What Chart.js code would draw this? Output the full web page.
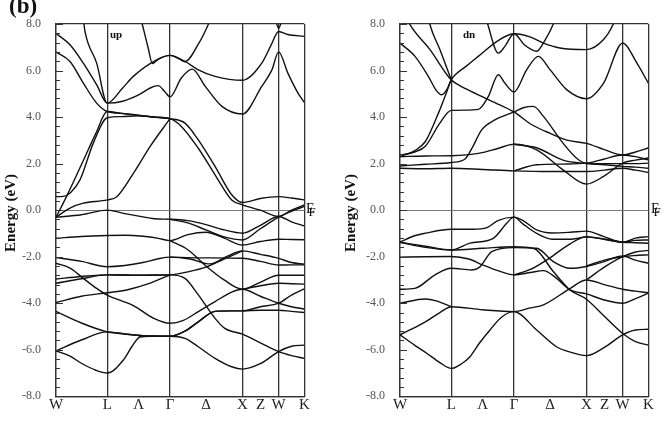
<!DOCTYPE html>
<html>
<head>
<meta charset="utf-8">
<script src="https://cdn.jsdelivr.net/npm/chart.js@4.4.0/dist/chart.umd.min.js"></script>
<style>
  body { margin: 0; background: #fff; width: 666px; height: 426px; position: relative; overflow: hidden; font-family: 'Liberation Serif', serif; }
  canvas { position: absolute; top: 0; }
  .lbl { position: absolute; color: #111; white-space: nowrap; }
  .ytitle { position: absolute; font-weight: bold; font-size: 15px; color: #111; transform: translate(-50%, -50%) rotate(-90deg); white-space: nowrap; }
  .ef { position: absolute; font-size: 14px; line-height: 14px; color: #111; white-space: nowrap; }
  .ef span { position: relative; top: 3px; margin-left: -6px; font-size: 13px; }
</style>
</head>
<body>
<canvas id="up" width="333" height="426" style="left:0"></canvas>
<canvas id="dn" width="333" height="426" style="left:333px"></canvas>

<div class="lbl" style="left:9px;top:-7px;font-size:23px;font-weight:bold">(b)</div>
<div class="lbl" style="left:110px;top:28px;font-size:11px;font-weight:bold">up</div>
<div class="lbl" style="left:463px;top:28px;font-size:11px;font-weight:bold">dn</div>
<div class="ytitle" style="left:10px;top:213px">Energy (eV)</div>
<div class="ytitle" style="left:350px;top:213px">Energy (eV)</div>
<div class="ef" style="left:306px;top:202px">E<span>F</span></div>
<div class="ef" style="left:651px;top:202px">E<span>F</span></div>

<script>
// k-path: W - L - Γ - X - W - K (fcc, units of 2π/a), Λ / Δ / Z are mid-segment labels
const SYM_K = [0, 0.707, 1.14, 1.573, 2.073, 2.573, 2.823, 3.073, 3.427];
const SYM_LABELS = ['W', 'L', 'Λ', 'Γ', 'Δ', 'X', 'Z', 'W', 'K'];
const SYM_LINE = [true, true, false, true, false, true, false, true, true];
const E_MIN = -8, E_MAX = 8, E_STEP = 2, E_MINOR = 0.4;

// spin-up bands, [k, E(eV)]
const upBands = [
  [[0,7.6],[0.193,7.11],[0.377,6.32],[0.561,5.39],[0.707,4.6],[0.92,5.25],[1.067,5.75],[1.39,6.46],[1.573,6.65],[1.78,6.39],[1.964,6.03],[2.195,5.75],[2.573,5.58],[2.84,6.32],[2.97,7.1],[3.073,7.68],[3.2,7.55],[3.427,7.47]],
  [[3.02,8.3],[3.073,7.82],[3.13,8.3]],
  [[0,6.8],[0.193,6.39],[0.377,5.46],[0.561,4.6],[0.707,4.24],[0.92,4.16],[1.14,4.08],[1.36,4.0],[1.573,3.93],[1.78,3.74],[1.964,3.02],[2.195,1.88],[2.425,0.66],[2.573,0.33],[2.82,0.5],[3.073,0.58],[3.25,0.52],[3.427,0.44]],
  [[1.12,8.8],[1.19,8.0],[1.27,7.0],[1.33,6.3],[1.42,6.5],[1.573,6.65],[1.7,6.5],[1.78,6.38],[1.96,7.11],[2.1,7.97],[2.18,8.6]],
  [[0.37,8.4],[0.4,7.68],[0.561,6.32],[0.707,4.6],[0.92,4.68],[1.14,4.95],[1.3,5.25],[1.41,5.35],[1.5,5.1],[1.573,4.87],[1.73,5.68],[1.88,6.06],[2.06,5.32],[2.29,4.46],[2.573,4.13],[2.84,5.32],[2.98,6.03],[3.073,6.8],[3.2,5.89],[3.34,5.03],[3.427,4.63]],
  [[0,-0.3],[0.1,0.3],[0.35,1.95],[0.55,3.3],[0.707,4.24],[0.92,4.15],[1.14,4.07],[1.36,4.0],[1.573,3.93],[1.73,3.6],[1.964,2.66],[2.195,1.52],[2.425,0.44],[2.573,0.23],[2.82,0.0],[3.073,-0.27],[3.25,0.0],[3.427,0.23]],
  [[0,0.58],[0.1,0.59],[0.2,0.75],[0.331,1.3],[0.515,2.88],[0.707,3.97],[0.9,4.02],[1.14,4.05],[1.36,4.0],[1.573,3.93]],
  [[0,-0.3],[0.2,0.1],[0.377,0.3],[0.707,0.44],[0.84,0.58],[1.07,1.59],[1.3,2.74],[1.573,3.93]],
  [[0,-0.3],[0.35,-0.2],[0.707,0.0],[0.95,-0.15],[1.16,-0.27],[1.36,-0.37],[1.573,-0.39],[1.82,-0.45],[2.07,-0.62],[2.32,-0.85],[2.573,-0.99],[2.82,-0.65],[3.073,-0.27],[3.25,-0.5],[3.427,-0.68]],
  [[1.573,-0.39],[1.82,-0.55],[2.07,-0.85],[2.32,-1.15],[2.573,-1.28],[2.82,-0.8],[3.073,-0.3],[3.25,-0.05],[3.427,0.16]],
  [[0,-1.21],[0.35,-1.13],[0.707,-1.09],[0.95,-1.08],[1.2,-1.12],[1.4,-1.2],[1.573,-1.31],[1.82,-1.05],[2.07,-0.95],[2.32,-1.2],[2.573,-1.5],[2.82,-1.35],[3.073,-1.25],[3.25,-1.26],[3.427,-1.27]],
  [[1.573,-1.31],[1.82,-1.7],[2.07,-2.4],[2.32,-3.0],[2.573,-3.4],[2.82,-3.1],[3.073,-2.8],[3.25,-2.8],[3.427,-2.8]],
  [[0,-2.04],[0.35,-2.2],[0.707,-2.43],[0.95,-2.38],[1.2,-2.25],[1.4,-2.1],[1.573,-2.02],[1.85,-2.1],[2.126,-2.31],[2.35,-2.0],[2.573,-1.75],[2.82,-1.9],[3.073,-2.07],[3.25,-2.25],[3.427,-2.32]],
  [[1.573,-2.02],[2.0,-2.05],[2.573,-2.07],[2.82,-2.2],[3.073,-2.36],[3.25,-2.35],[3.427,-2.35]],
  [[0,-2.96],[0.35,-2.85],[0.707,-2.78],[1.14,-2.8],[1.573,-2.78],[1.82,-2.65],[2.07,-2.45],[2.32,-2.1],[2.573,-1.75]],
  [[0,-3.14],[0.35,-2.95],[0.707,-2.78],[1.14,-2.8],[1.573,-2.78],[1.78,-2.93],[1.964,-3.64],[2.195,-4.65],[2.33,-5.08],[2.573,-5.33],[2.82,-5.7],[3.073,-6.08],[3.25,-6.25],[3.427,-6.37]],
  [[0,-3.97],[0.35,-3.7],[0.707,-3.55],[0.975,-3.43],[1.3,-3.14],[1.573,-2.78]],
  [[0,-2.28],[0.2,-2.5],[0.377,-2.93],[0.56,-3.36],[0.707,-3.65],[1.067,-4.1],[1.35,-4.65],[1.573,-4.86],[1.75,-4.75],[1.964,-4.36],[2.195,-3.93],[2.425,-3.52],[2.573,-3.4],[2.82,-3.7],[3.073,-4.0],[3.25,-4.15],[3.427,-4.25]],
  [[2.573,-3.4],[2.82,-3.25],[3.073,-3.14],[3.25,-3.16],[3.427,-3.18]],
  [[0,-4.35],[0.35,-4.85],[0.707,-5.23],[0.95,-5.32],[1.2,-5.4],[1.573,-5.42],[1.78,-5.2],[1.964,-4.8],[2.195,-4.35],[2.425,-4.33],[2.573,-4.33],[2.82,-4.15],[3.073,-4.0],[3.25,-3.65],[3.427,-3.38]],
  [[0,-6.05],[0.35,-5.58],[0.707,-5.23],[0.95,-5.32],[1.2,-5.4],[1.573,-5.42],[1.78,-5.2],[1.964,-4.8],[2.195,-4.35],[2.425,-4.33],[2.573,-4.33],[2.82,-4.3],[3.073,-4.3],[3.25,-4.35],[3.427,-4.4]],
  [[0,-6.05],[0.18,-6.25],[0.35,-6.58],[0.55,-6.88],[0.707,-7.0],[0.93,-6.44],[1.05,-5.85],[1.16,-5.45],[1.3,-5.42],[1.573,-5.42],[1.78,-5.51],[1.964,-5.87],[2.195,-6.37],[2.425,-6.73],[2.573,-6.83],[2.82,-6.6],[3.073,-6.08],[3.25,-5.85],[3.427,-5.8]]
];

// spin-down bands
const dnBands = [
  [[0,7.18],[0.207,6.61],[0.391,5.75],[0.5,5.15],[0.575,4.96],[0.65,5.2],[0.707,5.6],[0.92,6.2],[1.08,6.61],[1.36,7.3],[1.573,7.58],[1.794,7.45],[1.98,7.18],[2.208,6.97],[2.573,6.9],[2.806,7.32],[2.944,8.0],[3.0,8.5]],
  [[0,8.9],[0.138,7.97],[0.414,6.9],[0.707,5.6],[0.92,5.2],[1.127,4.89],[1.36,4.55],[1.573,4.22],[1.82,3.67],[2.073,3.3],[2.32,3.0],[2.573,2.87],[2.82,2.6],[3.073,2.37],[3.25,2.5],[3.427,2.67]],
  [[0.36,8.8],[0.414,7.97],[0.552,6.89],[0.707,5.6]],
  [[1.1,9.2],[1.21,8.0],[1.357,6.75],[1.45,7.05],[1.573,7.58],[1.72,7.1],[1.887,6.83],[2.0,7.3],[2.116,8.0],[2.2,8.8]],
  [[0,2.37],[0.2,2.5],[0.35,2.75],[0.55,3.74],[0.707,4.29],[0.9,4.3],[1.08,4.33],[1.22,4.89],[1.357,5.82],[1.45,5.45],[1.573,5.08],[1.748,6.03],[1.91,6.61],[2.07,6.04],[2.3,5.18],[2.573,4.79],[2.81,5.46],[3.073,7.18],[3.27,6.32],[3.427,5.46]],
  [[0,2.3],[0.2,2.55],[0.35,2.95],[0.53,4.17],[0.707,5.6]],
  [[0,1.8],[0.35,1.78],[0.707,1.8],[1.14,1.75],[1.573,1.69],[2.07,1.66],[2.573,1.66],[2.82,1.72],[3.073,1.8],[3.25,1.72],[3.427,1.62]],
  [[0,1.9],[0.35,1.97],[0.707,2.05],[0.897,2.2],[1.0,2.7],[1.127,3.45],[1.31,3.88],[1.573,4.22],[1.7,4.4],[1.84,4.46],[1.98,4.03],[2.25,2.88],[2.45,2.2],[2.573,2.02],[2.82,2.0],[3.073,2.0],[3.25,2.0],[3.427,2.02]],
  [[0,2.3],[0.35,2.33],[0.707,2.34],[1.1,2.45],[1.35,2.65],[1.573,2.83],[1.886,2.59],[2.25,1.73],[2.573,1.12],[2.81,1.45],[3.073,2.02],[3.25,2.15],[3.427,2.24]],
  [[1.573,2.83],[1.886,2.68],[2.25,2.15],[2.573,2.0],[2.82,1.95],[3.073,1.88],[3.25,1.85],[3.427,1.8]],
  [[1.573,1.69],[1.886,1.95],[2.25,1.98],[2.573,2.02],[2.82,2.2],[3.073,2.37],[3.25,2.3],[3.427,2.16]],
  [[0,-5.36],[0.2,-5.8],[0.368,-6.15],[0.55,-6.55],[0.707,-6.8],[0.85,-6.6],[0.966,-6.3],[1.1,-5.7],[1.242,-5.15],[1.4,-4.6],[1.573,-4.36],[1.886,-5.15],[2.16,-5.87],[2.35,-6.1],[2.573,-6.25],[2.82,-5.9],[3.073,-5.36],[3.25,-5.15],[3.427,-5.12]],
  [[0,-5.36],[0.2,-5.05],[0.35,-4.8],[0.55,-4.4],[0.707,-4.15],[1.14,-4.28],[1.573,-4.36],[1.8,-4.2],[1.98,-4.07],[2.35,-3.36],[2.573,-3.0],[2.82,-3.2],[3.073,-3.4],[3.25,-3.48],[3.427,-3.55]],
  [[0,-4.0],[0.35,-3.82],[0.5,-3.9],[0.707,-4.15]],
  [[0,-3.4],[0.207,-3.36],[0.483,-2.78],[0.707,-2.5],[0.99,-2.57],[1.1,-2.45],[1.266,-1.78],[1.573,-1.61],[1.886,-1.64],[2.116,-2.21],[2.346,-2.5],[2.573,-2.42],[2.82,-2.21],[3.073,-1.97],[3.25,-2.15],[3.427,-2.28]],
  [[0,-2.02],[0.35,-2.0],[0.707,-1.99],[0.95,-2.1],[1.14,-2.35],[1.35,-2.6],[1.573,-2.78],[1.8,-2.68],[1.98,-2.6],[2.15,-2.9],[2.346,-3.43],[2.573,-3.6],[2.82,-3.86],[3.073,-4.0],[3.25,-3.8],[3.427,-3.57]],
  [[0,-1.38],[0.2,-1.1],[0.35,-0.99],[0.707,-0.82],[1.0,-0.82],[1.2,-0.75],[1.35,-0.45],[1.573,-0.3],[1.7,-0.45],[1.886,-0.85],[2.1,-0.98],[2.35,-0.95],[2.573,-0.9],[2.806,-1.13],[3.073,-1.38],[3.25,-1.2],[3.427,-1.14]],
  [[0,-1.38],[0.35,-1.55],[0.707,-1.71],[0.966,-1.42],[1.288,-1.21],[1.473,-0.56],[1.573,-0.3],[1.7,-0.6],[1.886,-1.0],[2.1,-1.25],[2.35,-1.25],[2.573,-1.15],[2.82,-1.25],[3.073,-1.38],[3.25,-1.4],[3.427,-1.42]],
  [[0,-1.38],[0.35,-1.6],[0.707,-1.71],[1.14,-1.64],[1.573,-1.57],[1.85,-1.65],[2.116,-2.64],[2.346,-3.43],[2.573,-3.83],[2.806,-4.52],[3.073,-5.3],[3.25,-5.65],[3.427,-5.8]],
  [[1.573,-2.78],[1.8,-2.55],[2.07,-2.05],[2.32,-1.5],[2.573,-1.14],[2.82,-1.25],[3.073,-1.38],[3.25,-1.3],[3.427,-1.28]],
  [[2.573,-3.0],[2.82,-2.45],[3.073,-2.0],[3.25,-1.8],[3.427,-1.73]],
  [[2.573,-2.4],[2.82,-2.15],[3.073,-2.0],[3.25,-1.95],[3.427,-1.92]]
];

const FRAME = '#333';
const CLEAR = 'rgba(0,0,0,0)';

// inward tick marks on the energy axis (major every 2 eV, minor every 0.4 eV)
const innerTicks = {
  id: 'innerTicks',
  afterDatasetsDraw(chart) {
    const { ctx, chartArea: a, scales: { y } } = chart;
    ctx.save();
    ctx.strokeStyle = FRAME;
    ctx.lineWidth = 1;
    const n = Math.round((E_MAX - E_MIN) / E_MINOR);
    for (let i = 0; i <= n; i++) {
      const v = E_MIN + i * E_MINOR;
      const p = Math.round(y.getPixelForValue(v)) + 0.5;
      const len = i % 5 === 0 ? 7 : 4;
      ctx.beginPath();
      ctx.moveTo(a.left, p);
      ctx.lineTo(a.left + len, p);
      ctx.stroke();
    }
    ctx.restore();
  }
};

function bandChart(id, bands, padLeft, padRight) {
  return new Chart(document.getElementById(id), {
    type: 'line',
    data: {
      datasets: bands.map(b => ({
        data: b.map(([x, y]) => ({ x, y })),
        borderColor: '#111', borderWidth: 1.4,
        pointRadius: 0, fill: false, cubicInterpolationMode: 'monotone'
      }))
    },
    options: {
      responsive: false, animation: false, events: [],
      layout: { padding: { left: padLeft, right: padRight, top: 24, bottom: 3.7 } },
      plugins: { legend: { display: false }, tooltip: { enabled: false } },
      scales: {
        x: {
          type: 'linear', min: SYM_K[0], max: SYM_K[SYM_K.length - 1],
          afterBuildTicks: s => { s.ticks = SYM_K.map(v => ({ value: v })); },
          afterFit: s => { s.height = 26; },
          ticks: { autoSkip: false, maxRotation: 0, padding: 0, color: '#222',
                   font: { family: 'Liberation Serif', size: 15 },
                   callback: (v, i) => SYM_LABELS[i] },
          grid: { drawTicks: false, lineWidth: 1.3, color: c => SYM_LINE[c.index] ? FRAME : CLEAR },
          border: { color: FRAME, width: 1.3 }
        },
        y: {
          min: E_MIN, max: E_MAX,
          afterFit: s => { s.width = 40; },
          ticks: { stepSize: E_STEP, padding: 15, color: '#555',
                   font: { family: 'Liberation Serif', size: 12 },
                   callback: v => v.toFixed(1) },
          grid: { drawTicks: false,
                  lineWidth: c => c.tick.value === 0 ? 1 : 1.3,
                  color: c => c.tick.value === 0 ? '#777' : (Math.abs(c.tick.value) === E_MAX ? FRAME : CLEAR) },
          border: { color: FRAME, width: 1.3 }
        }
      }
    },
    plugins: [innerTicks]
  });
}

bandChart('up', upBands, 16, 28.7);
bandChart('dn', dnBands, 27, 17.7);
</script>
</body>
</html>
